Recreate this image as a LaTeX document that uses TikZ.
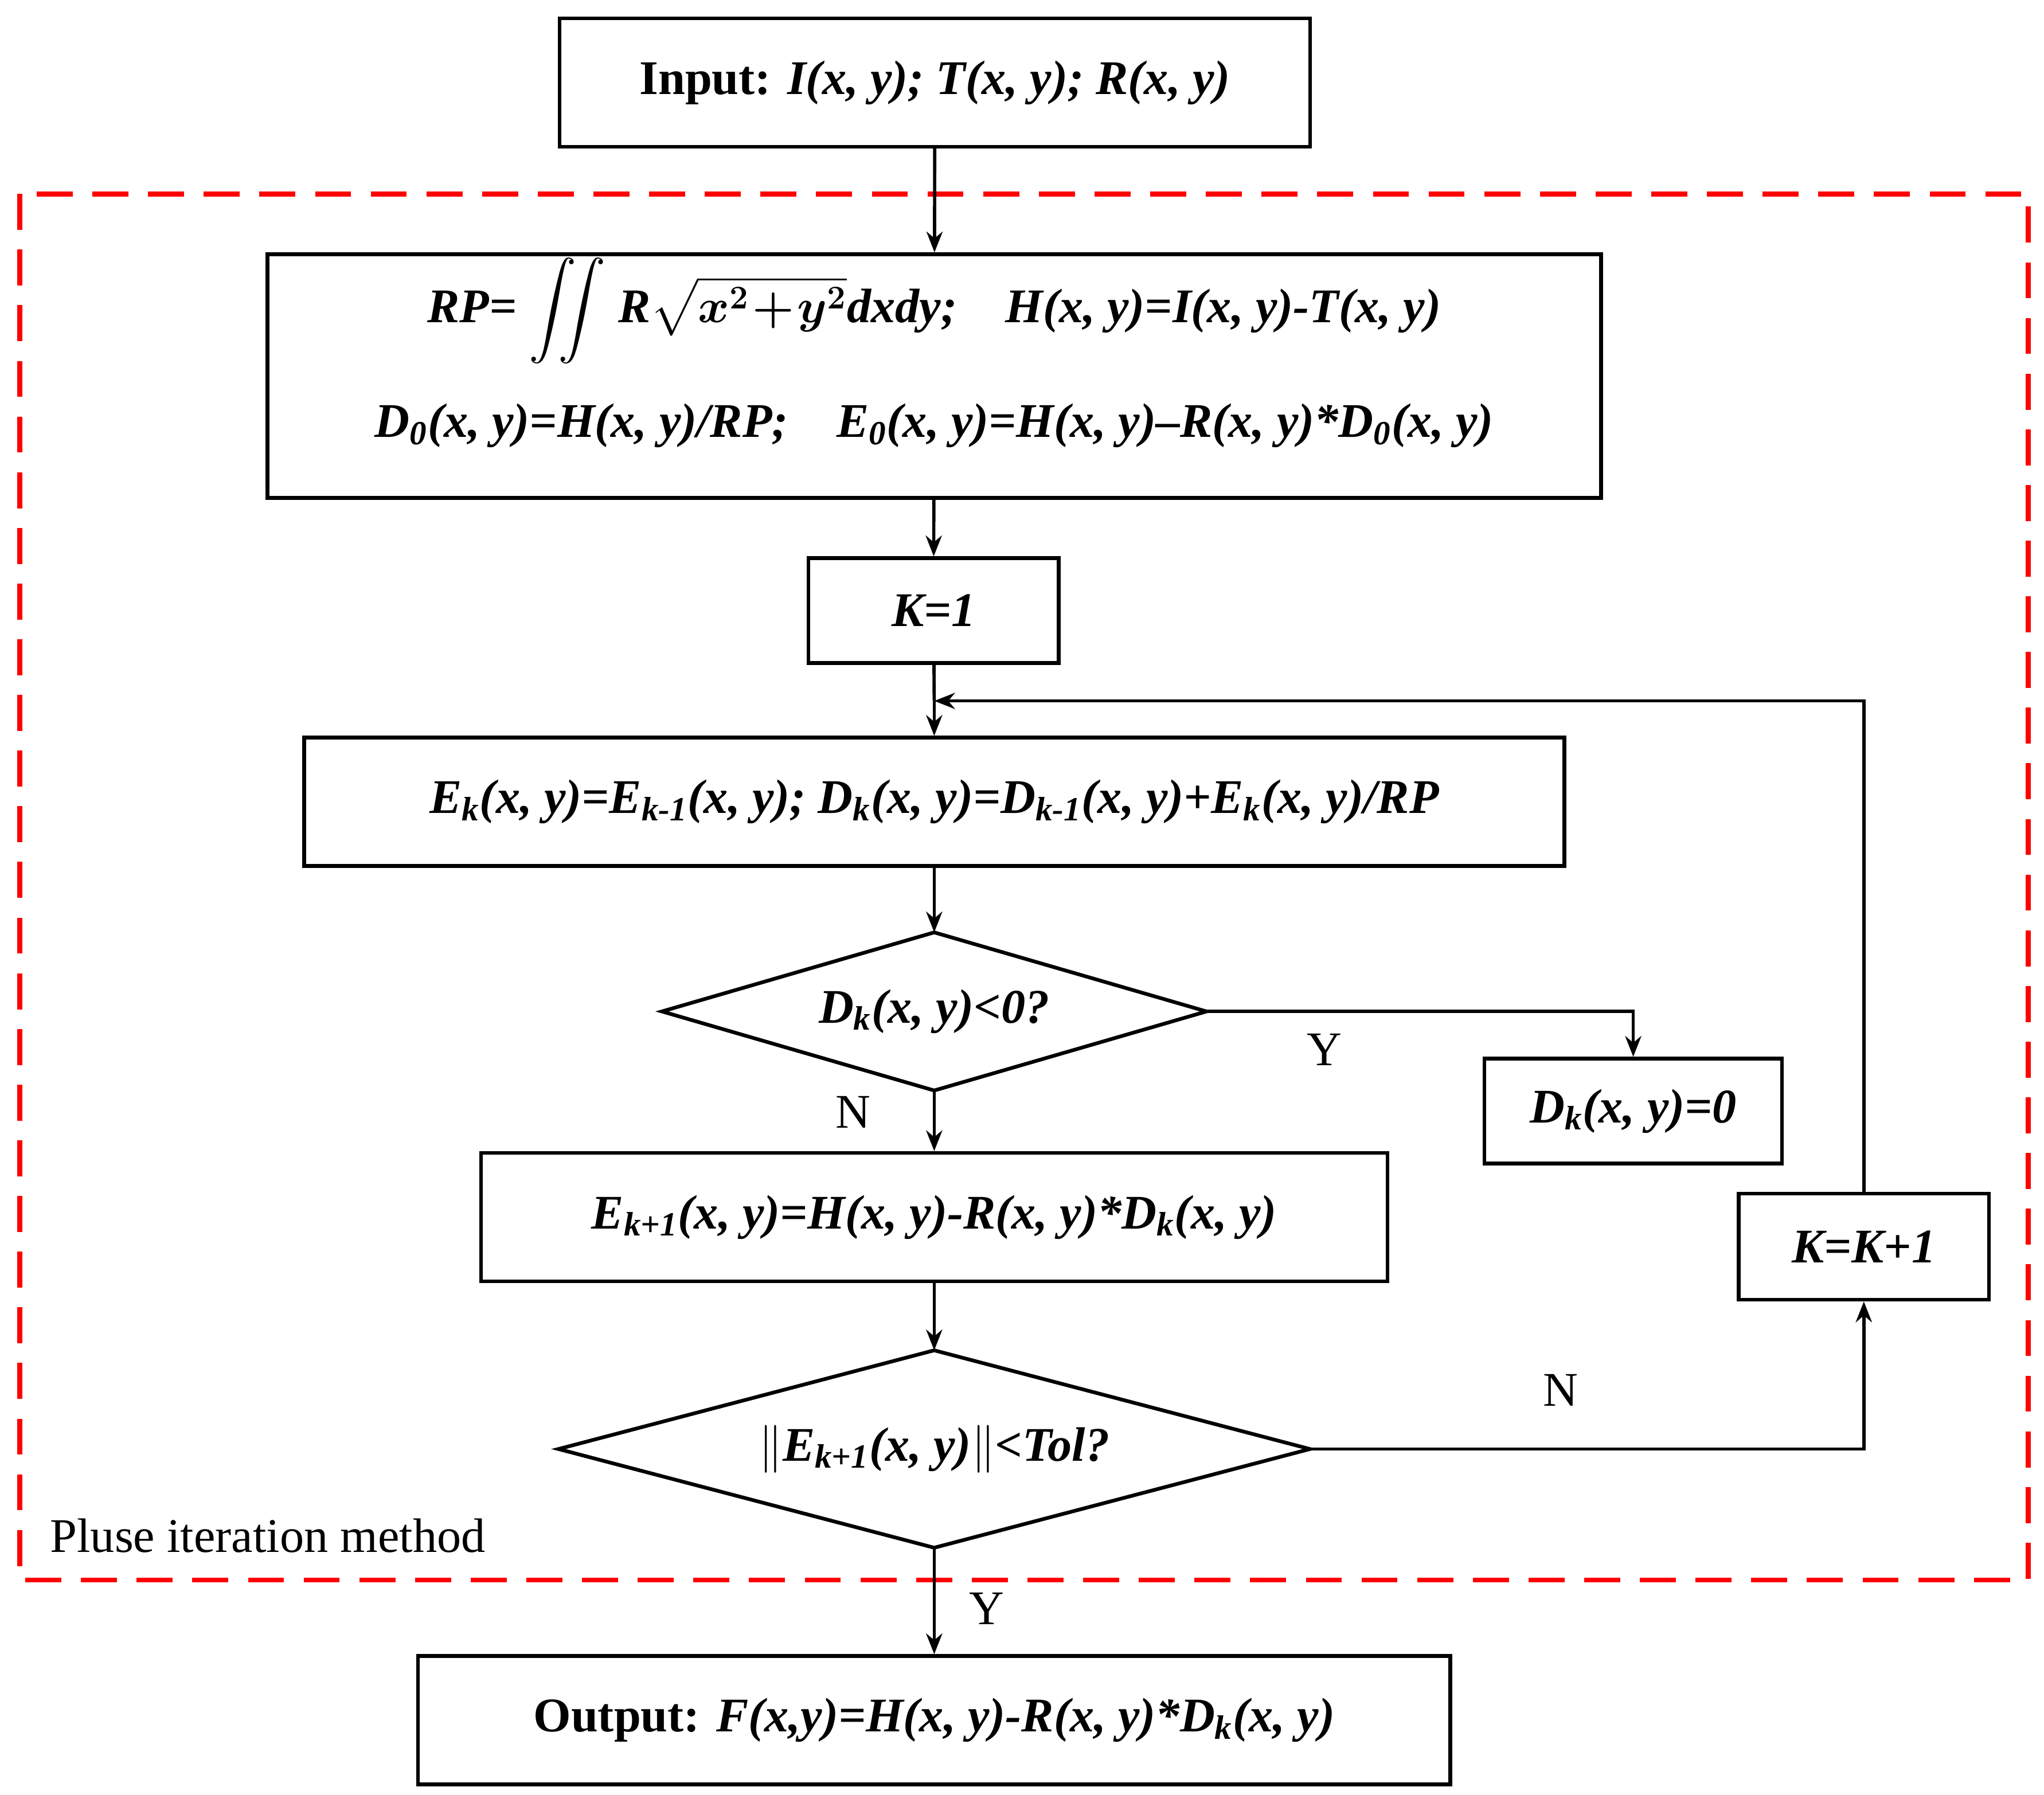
\documentclass[tikz,border=0pt]{standalone}
\usepackage{amsmath}
\usepackage{fontspec}
\setmainfont{Liberation Serif}
\usetikzlibrary{arrows.meta}
\begin{document}
\begin{tikzpicture}[x=0.02cm,y=-0.02cm,
  box/.style={draw,line width=1.6pt,inner sep=0pt,font=\fontsize{21}{25}\selectfont\bfseries\itshape},
  dia/.style={inner sep=0pt,font=\fontsize{21}{25}\selectfont\bfseries\itshape},
  txt/.style={inner sep=0pt,font=\fontsize{21}{25}\selectfont\bfseries\itshape},
  lab/.style={inner sep=0pt,font=\fontsize{21}{25}\selectfont},
  arr/.style={line width=1.4pt,-{Stealth[length=9pt,width=7pt]}},
  ln/.style={line width=1.4pt},
  dl/.style={line width=1.6pt}]
\useasboundingbox (0,0) rectangle (1560,1370);
\draw[red,line width=2.2pt,dash pattern=on 0.55cm off 0.3cm] (15,148) rectangle (1548,1206);
\node[box,minimum width=11.46cm,minimum height=1.96cm] (in) at (713.5,63) {\textup{Input:} I(x, y); T(x, y); R(x, y)};
\node[box,minimum width=20.36cm,minimum height=3.72cm] (rp) at (713,287) {};
\node[txt] (l1) at (713,237) {RP= $\displaystyle\boldsymbol{\iint}$ R$\boldsymbol{\sqrt{x^2\!+\!y^2}}$dxdy;\quad H(x, y)=I(x, y)-T(x, y)};
\node[txt] (l2) at (713,325) {D\textsubscript{0}(x, y)=H(x, y)/RP;\quad E\textsubscript{0}(x, y)=H(x, y)–R(x, y)*D\textsubscript{0}(x, y)};
\node[box,minimum width=3.82cm,minimum height=1.6cm] (k1) at (712.5,466) {K=1};
\node[box,minimum width=19.24cm,minimum height=1.96cm] (ek) at (713,612) {E\textsubscript{k}(x, y)=E\textsubscript{k-1}(x, y); D\textsubscript{k}(x, y)=D\textsubscript{k-1}(x, y)+E\textsubscript{k}(x, y)/RP};
\node[dia,minimum width=8.3cm,minimum height=2.4cm] (d1) at (713,772) {D\textsubscript{k}(x, y)<0?};
\draw[dl] (d1.north) -- (d1.east) -- (d1.south) -- (d1.west) -- cycle;
\node[box,minimum width=4.54cm,minimum height=1.6cm] (dz) at (1246.5,848) {D\textsubscript{k}(x, y)=0};
\node[box,minimum width=13.84cm,minimum height=1.96cm] (ek1) at (713,929) {E\textsubscript{k+1}(x, y)=H(x, y)-R(x, y)*D\textsubscript{k}(x, y)};
\node[dia,minimum width=11.46cm,minimum height=3.0cm] (d2) at (713,1106) {$\|$E\textsubscript{k+1}(x, y)$\|$<Tol?};
\draw[dl] (d2.north) -- (d2.east) -- (d2.south) -- (d2.west) -- cycle;
\node[box,minimum width=3.82cm,minimum height=1.62cm] (kk) at (1422.5,951.5) {K=K+1};
\node[box,minimum width=15.76cm,minimum height=1.96cm] (out) at (713,1313) {\textup{Output:} F(x,y)=H(x, y)-R(x, y)*D\textsubscript{k}(x, y)};
\coordinate (m) at (713,535);
\coordinate (c1) at (1422.5,535);
\coordinate (c2) at (1246.5,772);
\coordinate (c3) at (1422.5,1106);
\draw[arr] (in) -- (rp);
\draw[arr] (rp) -- (k1);
\draw[ln] (k1) -- (m);
\draw[arr] (m) -- (ek);
\draw[arr] (ek) -- (d1.north);
\draw[arr] (d1.south) -- (ek1);
\draw[arr] (ek1) -- (d2.north);
\draw[arr] (d2.south) -- (out);
\draw[arr] (d1.east) -- (c2) -- (dz);
\draw[arr] (d2.east) -- (c3) -- (kk);
\draw[arr] (kk) -- (c1) -- (m);
\node[lab] (y1) at (1011,801) {Y};
\node[lab] (n1) at (651,849) {N};
\node[lab] (n2) at (1191,1061) {N};
\node[lab] (y2) at (753,1228) {Y};
\node[lab,anchor=west] (pl) at (38,1172) {Pluse iteration method};
\end{tikzpicture}
\end{document}
